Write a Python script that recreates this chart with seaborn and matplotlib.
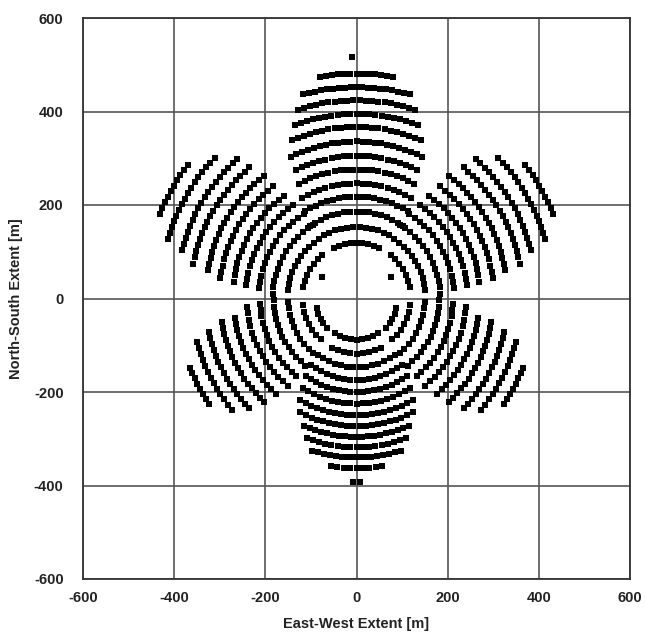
import numpy as np
import pandas as pd
import matplotlib
matplotlib.use("Agg")
import matplotlib.pyplot as plt
import seaborn as sns

# ---- Heliostat rows: radius [m], start / end azimuth [deg] ----
# North petal
N_r  = [119, 153, 186, 218, 246, 276, 305, 336, 367, 395, 424, 452, 481, 517]
N_lo = [65.2, 57, 56.7, 58.8, 61.1, 62.8, 64.2, 64.6, 67.4, 70, 72.4, 75, 80.4, 91]
N_hi = [114.8, 123, 123.3, 121.2, 118.9, 117.2, 115.8, 115.4, 112.6, 110, 107.6, 105, 99.6, 91]
# North-east petal (mirrored for north-west)
NE_r  = [88, 120, 152, 184, 215, 244, 272, 302, 332, 366, 397, 433, 468]
NE_lo = [31, 12, 6.8, 3.3, 5.8, 6.7, 7.6, 8.3, 10.7, 11.8, 15.2, 17, 22.8]
NE_hi = [31, 51.5, 56.8, 58.8, 57.3, 55.2, 54, 52.5, 52.2, 50, 48.8, 44, 37.7]
# South-east petal (mirrored for south-west)
SE_r  = [90, 118, 150, 182, 212, 240, 270, 300, 332, 362, 394]
SE_lo = [-44, -48, -51, -52, -51.6, -51, -49, -47.5, -45, -41, -35]
SE_hi = [-13.7, -7, -2.7, -1.2, -2.9, -4.3, -8.7, -9.5, -12.4, -14.8, -22]
# South petal
S_r  = [88, 118, 147, 174, 200, 225, 250, 273, 296, 318, 340, 363, 393]
S_lo = [-123, -116.7, -125, -125, -124, -121.6, -119.5, -116.8, -112.9, -109.9, -106.6, -99, -91.2]
S_hi = [-57, -63.3, -55, -55, -56, -58.4, -60.5, -63.2, -67.1, -70.1, -73.4, -81, -88.8]

spacing = 13.5  # m between heliostats along a row

def petal(rs, los, his, mirror=False):
    xs, ys = [], []
    for r, lo, hi in zip(rs, los, his):
        arc = abs(hi - lo) * np.pi / 180 * r
        n = max(1, int(round(arc / spacing)) + 1)
        a = np.deg2rad(np.linspace(lo, hi, n))
        x = r * np.cos(a)
        y = r * np.sin(a)
        if mirror:
            x = -x
        xs.extend(x)
        ys.extend(y)
    return xs, ys

X, Y = [], []
for args in [(N_r, N_lo, N_hi, False), (NE_r, NE_lo, NE_hi, False), (NE_r, NE_lo, NE_hi, True),
             (SE_r, SE_lo, SE_hi, False), (SE_r, SE_lo, SE_hi, True), (S_r, S_lo, S_hi, False)]:
    xs, ys = petal(*args)
    X += xs
    Y += ys

df = pd.DataFrame({"East-West": X, "North-South": Y})

ticks = [-600, -400, -200, 0, 200, 400, 600]

sns.set_style("white")
plt.rcParams["font.family"] = ["Liberation Sans", "DejaVu Sans"]

fig = plt.figure(figsize=(6.45, 6.41), dpi=100)
ax = fig.add_axes([83 / 645, 1 - 579 / 641, (630 - 83) / 645, (579 - 18) / 641])

sns.scatterplot(data=df, x="East-West", y="North-South", marker="s", color="black",
                s=17, linewidth=0, ax=ax, legend=False, zorder=3)

ax.set_xlim(-600, 600)
ax.set_ylim(-600, 600)
ax.set_xticks(ticks)
ax.set_yticks(ticks)
ax.set_xticklabels([str(t) for t in ticks], fontsize=10.5, fontweight="bold", color="#222222")
ax.set_yticklabels([str(t) for t in ticks], fontsize=10.5, fontweight="bold", color="#222222")
ax.grid(True, color="#555555", linewidth=1.2)
ax.set_axisbelow(True)
for sp in ax.spines.values():
    sp.set_color("#333333")
    sp.set_linewidth(1.3)
ax.tick_params(axis="x", direction="out", length=4, width=1.2, color="#333333", pad=5)
ax.tick_params(axis="y", length=0, pad=14)
ax.set_xlabel("East-West Extent [m]", fontsize=10.5, fontweight="bold", color="#222222", labelpad=8)
ax.set_ylabel("North-South Extent [m]", fontsize=10.5, fontweight="bold", color="#222222", labelpad=8)

fig.savefig("out.png", dpi=100)
